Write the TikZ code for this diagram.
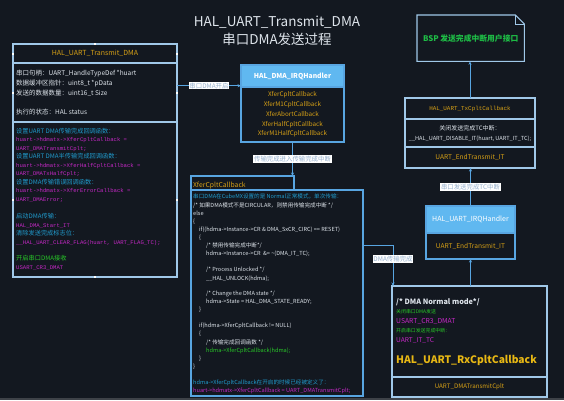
\documentclass[tikz,border=0pt]{standalone}
\usepackage{fontspec}
\setmainfont{Noto Sans CJK SC}
\setmonofont{Liberation Mono}
\usetikzlibrary{arrows.meta}
\definecolor{bgdark}{RGB}{19,24,32}
\definecolor{edgegrey}{RGB}{62,66,72}
\definecolor{boxline}{RGB}{160,200,232}
\definecolor{linkblue}{RGB}{88,165,225}
\definecolor{headblue}{RGB}{96,184,240}
\definecolor{gold}{RGB}{214,160,22}
\definecolor{goldbig}{RGB}{232,184,20}
\definecolor{txtwhite}{RGB}{222,228,235}
\definecolor{cmtcyan}{RGB}{32,155,205}
\definecolor{codemag}{RGB}{196,40,196}
\definecolor{codegrn}{RGB}{40,200,40}
\definecolor{bspgrn}{RGB}{30,190,70}
\definecolor{lbltext}{RGB}{150,176,205}
\newcommand{\fsz}[2]{\fontsize{#1}{#2}\selectfont}
\tikzset{
  box/.style={draw=boxline, line width=1.1pt, inner sep=0pt, outer sep=0pt, anchor=north west},
  bluebox/.style={box, draw=linkblue},
  head/.style={bluebox, fill=headblue, text=white},
  conn/.style={draw=linkblue, line width=1pt},
  lbl/.style={fill=white, text=lbltext, font=\fsz{6.4}{7}, inner sep=0.8pt},
  ln/.style={anchor=base west, inner sep=0pt},
  cmt/.style={text=cmtcyan, font=\fsz{6.2}{7}},
  codeln/.style={text=codemag, font=\ttfamily\fsz{5.6}{6}},
  grn/.style={text=codegrn, font=\fsz{6.2}{7}},
  >={Stealth[length=3.5pt,width=3pt]}
}

\begin{document}
\begin{tikzpicture}[x=1pt,y=-1pt]
\fill[bgdark] (0,0) rectangle (564,400);
\fill[edgegrey] (0,397.5) rectangle (564,400);
\useasboundingbox (0,0) rectangle (564,400);

% title
\node[text=txtwhite, font=\fsz{13.5}{16}] (title1) at (277,22.7) {HAL\_UART\_Transmit\_DMA};
\node[text=txtwhite, font=\fsz{13.5}{16}] (title2) at (277,39.5) {串口DMA发送过程};

% HAL_UART_Transmit_DMA
\node[box, minimum width=164pt, minimum height=19pt, text=gold, font=\fsz{7}{8}] (txhead) at (13,44) {HAL\_UART\_Transmit\_DMA};
\node[box, minimum width=164pt, minimum height=59pt] (txinfo) at (13,63) {};
\node[box, minimum width=164pt, minimum height=155pt] (txcode) at (13,122) {};
\foreach \y/\t [count=\i] in {73/{串口句柄：UART\_HandleTypeDef *huart}, 83/{数据缓冲区指针：uint8\_t *pData},
  93/{发送的数据数量：uint16\_t Size}, 112/{执行的状态：HAL status}}
  \node[ln, text=txtwhite, font=\fsz{6.5}{8}] (info\i) at (16,\y+2.4) {\t};
\foreach \y/\s/\t [count=\i] in {
  131/cmt/{设置UART DMA传输完成回调函数：},
  139.5/codeln/{huart->hdmatx->XferCpltCallback =},
  148/codeln/{UART\_DMATransmitCplt;},
  156.5/cmt/{设置UART DMA半传输完成回调函数：},
  165/codeln/{huart->hdmatx->XferHalfCpltCallback =},
  173.5/codeln/{UART\_DMATxHalfCplt;},
  182/cmt/{设置DMA传输错误回调函数：},
  190.5/codeln/{huart->hdmatx->XferErrorCallback =},
  199/codeln/{UART\_DMAError;},
  216.5/cmt/{启动DMA传输：},
  225/codeln/{HAL\_DMA\_Start\_IT},
  233.5/cmt/{清除发送完成标志位：},
  242/codeln/{\_\_HAL\_UART\_CLEAR\_FLAG(huart, UART\_FLAG\_TC);},
  258.5/grn/{开启串口DMA接收},
  267/codeln/{USART\_CR3\_DMAT}}
  \node[ln,\s] (code\i) at (16,\y+2.2) {\t};
\foreach \p in {(95,44),(13,53.5),(177,53.5),(13,93),(177,93),(13,200),(177,200),(95,277)}
  \fill[white] \p +(-1,-1) rectangle +(1,1);

% HAL_DMA_IRQHandler
\node[head, minimum width=103pt, minimum height=22pt, font=\bfseries\fsz{6.8}{8}] (dmahead) at (241,65) {HAL\_DMA\_IRQHandler};
\node[bluebox, minimum width=103pt, minimum height=55pt, align=center, text=gold, font=\fsz{6.3}{9.75}] (dmabody) at (241,87)
  {XferCpltCallback\\XferM1CpltCallback\\XferAbortCallback\\XferHalfCpltCallback\\XferM1HalfCpltCallback};

% XferCpltCallback
\node[bluebox, minimum width=103pt, minimum height=14pt] (xferhead) at (191,176) {};
\node[ln, text=gold, font=\fsz{6.8}{8}] (xfertitle) at (193,185+2.4) {XferCpltCallback};
\node[bluebox, minimum width=172pt, minimum height=206pt] (xferbody) at (191,190) {};
\begin{scope}[font=\fsz{5.6}{7}]
\foreach \x/\y/\c/\t [count=\i] in {
  193/196/cmtcyan/{串口DMA在CubeMX设置的是 Normal正常模式，单次传输：},
  193/205/txtwhite/{/* 如果DMA模式不是CIRCULAR，则禁用传输完成中断 */},
  193/213/txtwhite/{else},
  193/221/txtwhite/{\{},
  199/229/txtwhite/{if((hdma->Instance->CR \& DMA\_SxCR\_CIRC) == RESET)},
  199/237/txtwhite/{\{},
  206/245/txtwhite/{/* 禁用传输完成中断*/},
  206/253/txtwhite/{hdma->Instance->CR \ \&= \textasciitilde(DMA\_IT\_TC);},
  206/269/txtwhite/{/* Process Unlocked */},
  206/278/txtwhite/{\_\_HAL\_UNLOCK(hdma);},
  206/293/txtwhite/{/* Change the DMA state */},
  206/301/txtwhite/{hdma->State = HAL\_DMA\_STATE\_READY;},
  199/309/txtwhite/{\}},
  199/325/txtwhite/{if(hdma->XferCpltCallback != NULL)},
  199/333/txtwhite/{\{},
  206/342/txtwhite/{/* 传输完成回调函数 */},
  206/350/codegrn/{hdma->XferCpltCallback(hdma);},
  199/358/txtwhite/{\}},
  193/366/txtwhite/{\}},
  193/382/cmtcyan/{hdma->XferCpltCallback在开启的时候已经被定义了：},
  193/390/codemag/{huart->hdmatx->XferCpltCallback = UART\_DMATransmitCplt;}}
  \node[ln, text=\c] (xl\i) at (\x,\y+2.1) {\t};
\end{scope}

% BSP
\node[anchor=north west, inner sep=0pt, minimum width=107pt, minimum height=46pt, text=bspgrn, font=\bfseries\fsz{7.8}{9}] (bsp) at (417,15) {BSP 发送完成中断用户接口};
\draw[boxline, line width=1.1pt] (bsp.north west) -- ([xshift=-9pt]bsp.north east) -- ([yshift=-9pt]bsp.north east) -- (bsp.south east) -- (bsp.south west) -- cycle;
\draw[boxline, line width=0.8pt] ([xshift=-9pt]bsp.north east) -- ([xshift=-9pt,yshift=-9pt]bsp.north east) -- ([yshift=-9pt]bsp.north east);

% HAL_UART_TxCpltCallback
\node[box, minimum width=130pt, minimum height=21pt, text=gold, font=\ttfamily\fsz{5.9}{7}] (txchead) at (405,98) {HAL\_UART\_TxCpltCallback};
\node[box, minimum width=130pt, minimum height=28pt, text=txtwhite, align=center, font=\fsz{5.6}{10}] (txcmid) at (405,119)
  {\fsz{6}{10}关闭发送完成TC中断：\\\_\_HAL\_UART\_DISABLE\_IT(huart, UART\_IT\_TC);};
\node[box, minimum width=130pt, minimum height=21pt, text=gold, font=\fsz{6.6}{8}] (txcbot) at (405,147) {UART\_EndTransmit\_IT};

% HAL_UART_IRQHandler
\node[head, minimum width=89pt, minimum height=27pt, font=\fsz{7}{8}] (uirqhead) at (426,206) {HAL\_UART\_IRQHandler};
\node[bluebox, minimum width=89pt, minimum height=26pt, text=gold, font=\fsz{6.6}{8}] (uirqbody) at (426,233) {UART\_EndTransmit\_IT};

% HAL_UART_RxCpltCallback
\node[box, minimum width=155pt, minimum height=91pt] (rxmain) at (392,286) {};
\node[box, minimum width=155pt, minimum height=20pt, text=gold, font=\fsz{6.2}{8}] (rxbot) at (392,377) {UART\_DMATransmitCplt};
\node[ln, text=txtwhite, font=\bfseries\fsz{7.3}{8}] (rx1) at (396,302+2.7) {/* DMA Normal mode*/};
\node[ln, text=codegrn, font=\fsz{4.9}{5}] (rx2) at (396,312+1.8) {关闭串口DMA发送};
\node[ln, text=codemag, font=\fsz{6.8}{8}] (rx3) at (396,321+2.5) {USART\_CR3\_DMAT};
\node[ln, text=codegrn, font=\fsz{4.9}{5}] (rx4) at (396,331+1.8) {开启串口发送完成中断：};
\node[ln, text=codemag, font=\fsz{6.6}{8}] (rx5) at (396,340+2.4) {UART\_IT\_TC};
\node[ln, text=goldbig, font=\bfseries\fsz{10.3}{12}] (rx6) at (396,360+3.7) {HAL\_UART\_RxCpltCallback};

% connectors
\draw[conn,->] (txinfo.east |- 0,85.7) -- (dmahead.west |- 0,85.7) node[lbl, midway] (lblon) {串口DMA开启};
\draw[conn,->] (dmabody.south) -- (dmabody.south |- xferhead.north) node[lbl, midway] (lbltc) {传输完成进入传输完成中断};
\coordinate (bend) at (393,245);
\draw[conn,->] (xferbody.east |- bend) -- (bend) -- node[lbl, pos=.34] (lbldma) {DMA传输完成} (bend |- rxmain.north);
\draw[conn,->] (rxmain.north -| uirqbody.south) -- (uirqbody.south);
\draw[conn,->] (uirqhead.north) -- (uirqhead.north |- txcbot.south) node[lbl, midway] (lbluart) {串口发送完成TC中断};
\draw[conn,->] (txchead.north) -- (txchead.north |- bsp.south);
\end{tikzpicture}
\end{document}
